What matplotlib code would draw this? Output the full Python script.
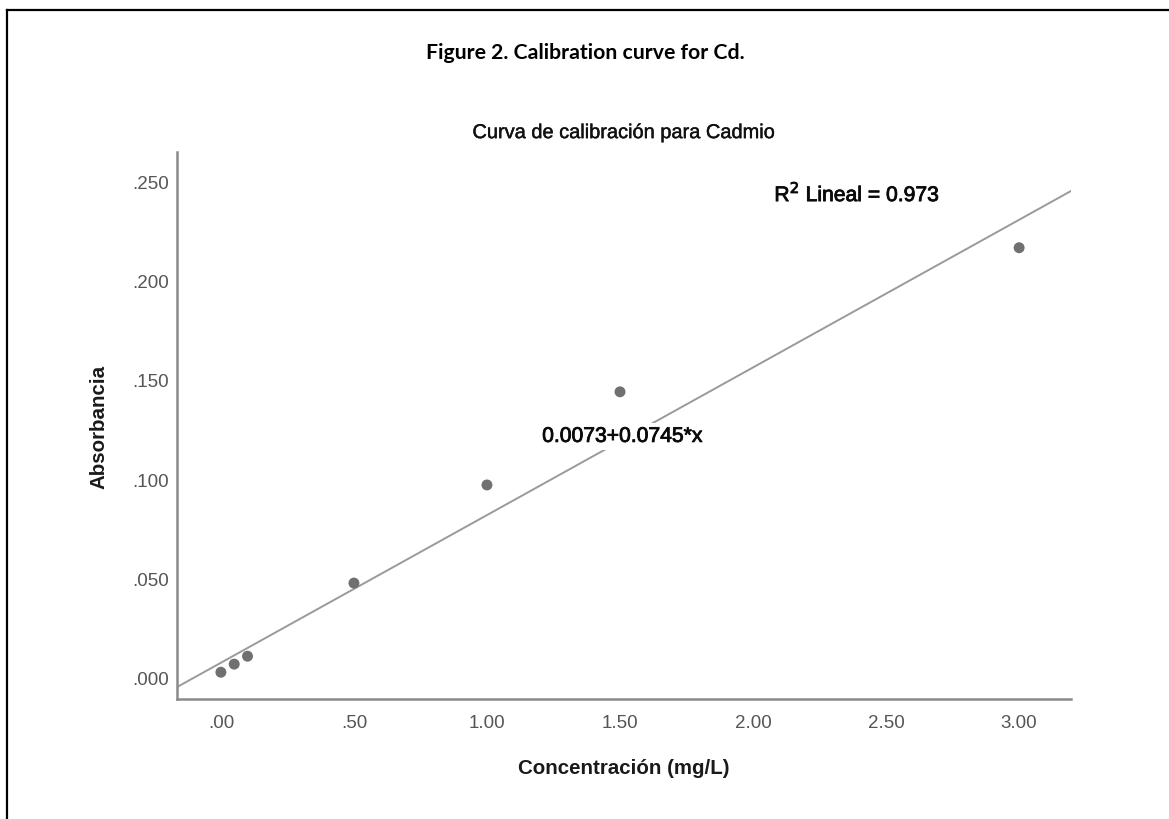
import matplotlib.pyplot as plt
import matplotlib.lines as mlines
import matplotlib.patheffects as pe
import numpy as np

# calibration standards
concentracion = [0.0, 0.05, 0.10, 0.50, 1.00, 1.50, 3.00]
absorbancia = [0.0025, 0.0066, 0.0106, 0.0475, 0.0970, 0.1440, 0.2167]
intercepto = 0.0073
pendiente = 0.0745
r2 = 0.973

x_ticks = [0.0, 0.5, 1.0, 1.5, 2.0, 2.5, 3.0]
x_ticklabels = [".00", ".50", "1.00", "1.50", "2.00", "2.50", "3.00"]
y_ticks = [0.0, 0.05, 0.10, 0.15, 0.20, 0.25]
y_ticklabels = [".000", ".050", ".100", ".150", ".200", ".250"]

W, H = 1169, 820
fig = plt.figure(figsize=(W / 100, H / 100), dpi=100)
plt.rcParams["font.family"] = ["Liberation Sans", "DejaVu Sans"]

# frame (only top and left edges visible in the crop)
fig.add_artist(mlines.Line2D([7 / W, 1], [1 - 11 / H, 1 - 11 / H], color="black", lw=1.6, transform=fig.transFigure))
fig.add_artist(mlines.Line2D([7 / W, 7 / W], [0, 1 - 11 / H], color="black", lw=1.6, transform=fig.transFigure))

fig.text(585 / W, 1 - 53 / H, "Figure 2. Calibration curve for Cd.", ha="center", va="center",
         fontsize=15.3, fontweight="bold", family=["Lato", "DejaVu Sans"])

left, right, top, bottom = 177, 1071, 153, 700
ax = fig.add_axes([left / W, 1 - bottom / H, (right - left) / W, (bottom - top) / H])

xmin, xmax = -0.165, 3.195
ymin, ymax = -0.011, 0.265
ax.set_xlim(xmin, xmax)
ax.set_ylim(ymin, ymax)

xs = np.array([xmin, xmax])
ax.plot(xs, intercepto + pendiente * xs, color="#9a9a9a", lw=1.4, zorder=1)
ax.scatter(concentracion, absorbancia, s=62, color="#707070", edgecolors="none", zorder=3)

# SPSS draws these labels a bit heavier than regular weight
heavy = [pe.withStroke(linewidth=0.6, foreground="#0a0a0a")]
ax.text(1.51, 0.1215, f"{intercepto:.4f}+{pendiente:.4f}*x", ha="center", va="center",
        fontsize=15.2, color="#0a0a0a", zorder=2, path_effects=heavy,
        bbox=dict(facecolor="white", edgecolor="none", pad=3))
ax.text(2.08, 0.2445, f"R$^2$ Lineal = {r2}", ha="left", va="center",
        fontsize=15.2, color="#0a0a0a", path_effects=heavy)

for s in ["top", "right"]:
    ax.spines[s].set_visible(False)
for s in ["left", "bottom"]:
    ax.spines[s].set_color("#8a8a8a")
    ax.spines[s].set_linewidth(1.8)

ax.set_xticks(x_ticks)
ax.set_xticklabels(x_ticklabels)
ax.set_yticks(y_ticks)
ax.set_yticklabels(y_ticklabels)
ax.tick_params(axis="both", length=0, labelsize=13.5, labelcolor="#555555")
ax.tick_params(axis="x", pad=11)
ax.tick_params(axis="y", pad=6)

ax.set_title("Curva de calibración para Cadmio", fontsize=14.4, color="#111111", pad=10,
             path_effects=[pe.withStroke(linewidth=0.3, foreground="#111111")])
ax.set_xlabel("Concentración (mg/L)", fontsize=14.8, fontweight="bold", color="#1a1a1a", labelpad=19)
ax.set_ylabel("Absorbancia", fontsize=14.8, fontweight="bold", color="#1a1a1a", labelpad=17)

fig.savefig("out.png", dpi=100, facecolor="white")
